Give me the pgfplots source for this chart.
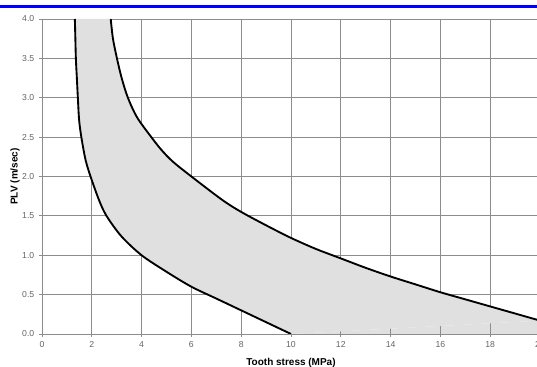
\documentclass[border=0pt]{standalone}
\usepackage{fontspec}
\setmainfont{Liberation Sans}
\usepackage{pgfplots}
\pgfplotsset{compat=1.18}
\usepgfplotslibrary{fillbetween}
\definecolor{fillgray}{RGB}{224,224,224}
\definecolor{gridgray}{RGB}{140,140,140}
\definecolor{ticklab}{RGB}{100,100,100}
\begin{document}
\begin{tikzpicture}
\begin{axis}[
  at={(0pt,0pt)}, anchor=south west,
  scale only axis, width=373.5pt, height=236.25pt,
  xmin=0, xmax=20, ymin=0, ymax=4,
  xtick={0,2,...,20}, ytick={0,0.5,...,4},
  set layers,
  axis x line=bottom, axis y line=left,
  axis line style={-, draw=gridgray, line width=0.6pt},
  grid=major,
  major grid style={draw=gridgray, line width=0.6pt},
  tick align=outside, major tick length=2.25pt,
  tick style={draw=gridgray, line width=0.6pt},
  /pgf/number format/assume math mode=true,
  ticklabel style={font=\fontsize{6.5}{7}\selectfont, text=ticklab},
  yticklabel style={/pgf/number format/.cd, fixed, fixed zerofill, precision=1},
  xticklabel style={/pgf/number format/fixed},
  xlabel={\textbf{Tooth stress (MPa)}},
  ylabel={\textbf{PLV (m/sec)}},
  every axis x label/.style={at={(axis cs:10,0)}, anchor=north, yshift=-15pt, font=\fontsize{7.5}{8}\selectfont},
  every axis y label/.style={at={(axis cs:0,2)}, xshift=-20.25pt, rotate=90, anchor=center, font=\fontsize{7.5}{8}\selectfont},
]
\addplot[name path=upper, black, line width=1.4pt, smooth] coordinates {
(2.76,4.0) (2.85,3.75) (3.01,3.5) (3.2,3.25) (3.45,3.0) (3.82,2.75) (4.39,2.5)
(4.79,2.34) (5.25,2.19) (6.0,2.0) (7.25,1.70) (8,1.55) (9,1.38) (10,1.22) (11,1.08)
(12,0.96) (13,0.84) (14,0.73) (15,0.63) (16,0.53) (17,0.44) (18,0.35)
(19,0.26) (20,0.17)};
\addplot[name path=lower, black, line width=1.4pt, smooth] coordinates {
(1.32,4.0) (1.34,3.75) (1.36,3.5) (1.40,3.25) (1.44,3.0) (1.49,2.72) (1.58,2.5)
(1.75,2.21) (1.95,2.0) (2.29,1.70) (2.59,1.5) (3.19,1.24) (4,1.0) (5,0.79)
(6,0.6) (7,0.45) (8,0.3) (9,0.15) (10,0)};
\addplot[fill=fillgray, draw=none, on layer=axis background] fill between[of=upper and lower];
\addplot[fill=fillgray, draw=none, on layer=axis background] coordinates {(10,0) (20,0.17) (20,0) (10,0)};
\end{axis}
\draw[draw={rgb,255:red,0;green,0;blue,255}, line width=2.25pt] (-31.5pt,245.8pt) -- (371.25pt,245.8pt);
\pgfresetboundingbox
\path[use as bounding box] (-31.5pt,-24.75pt) rectangle (371.25pt,250.5pt);
\end{tikzpicture}
\end{document}
